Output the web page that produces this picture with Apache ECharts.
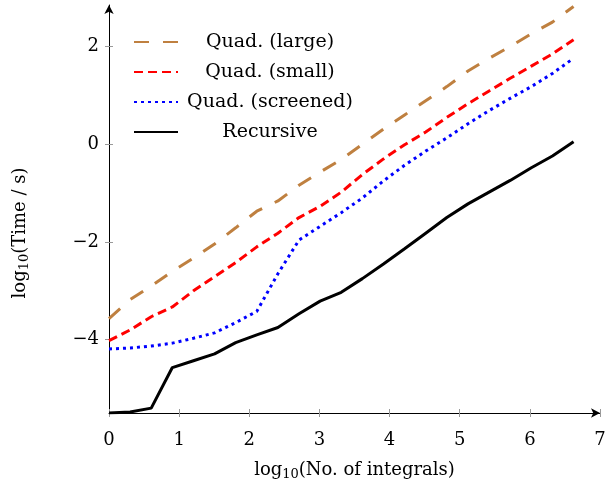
<!DOCTYPE html>
<html>
<head>
<meta charset="utf-8">
<script src="https://cdn.jsdelivr.net/npm/echarts@6/dist/echarts.min.js"></script>
<style>
  html, body { margin: 0; padding: 0; background: #fff; }
  #chart { width: 606px; height: 484px; }
</style>
</head>
<body>
<div id="chart"></div>
<script>
// log10 of the number of integrals (2^0 .. 2^22)
const logN = [0, 0.301, 0.602, 0.903, 1.204, 1.505, 1.806, 2.107, 2.408, 2.709, 3.010, 3.311,
              3.612, 3.913, 4.214, 4.515, 4.816, 5.118, 5.419, 5.720, 6.021, 6.322, 6.623];

// log10(time / s) per method
const quadLarge = [-3.57, -3.18, -2.9, -2.6, -2.33, -2.04, -1.71, -1.37, -1.16, -0.84, -0.57, -0.31,
                   0.0, 0.31, 0.6, 0.89, 1.18, 1.5, 1.76, 2.0, 2.26, 2.5, 2.82];
const quadSmall = [-4.02, -3.8, -3.53, -3.33, -3.0, -2.71, -2.42, -2.1, -1.82, -1.5, -1.27, -0.98,
                   -0.62, -0.3, -0.01, 0.25, 0.55, 0.83, 1.09, 1.35, 1.6, 1.85, 2.14];
const quadScreened = [-4.19, -4.17, -4.13, -4.07, -3.97, -3.86, -3.65, -3.42, -2.65, -1.96, -1.68, -1.4,
                      -1.1, -0.75, -0.43, -0.14, 0.13, 0.42, 0.69, 0.94, 1.18, 1.45, 1.76];
const recursive = [-5.5, -5.48, -5.4, -4.57, -4.43, -4.29, -4.06, -3.9, -3.75, -3.47, -3.21, -3.03,
                   -2.75, -2.45, -2.14, -1.82, -1.5, -1.22, -0.98, -0.74, -0.48, -0.24, 0.05];

const xTicks = [0, 1, 2, 3, 4, 5, 6, 7];
const yTicks = [-4, -2, 0, 2];

const serif = '"DejaVu Serif", "Liberation Serif", serif';

function pairs(ys) {
  return logN.map((x, i) => [x, ys[i]]);
}

const chart = echarts.init(document.getElementById('chart'));

const tickStyle = { lineStyle: { color: '#999', width: 1 }, length: 4 };

const option = {
  animation: false,
  backgroundColor: '#fff',
  grid: { left: 109, right: 6, top: 5, bottom: 71, outerBoundsMode: 'none' },
  legend: {
    left: 133,
    top: 31,
    padding: 0,
    orient: 'vertical',
    itemWidth: 44,
    itemHeight: 14,
    itemGap: 8,
    itemStyle: { opacity: 0 },
    data: ['Quad. (large)', 'Quad. (small)', 'Quad. (screened)', 'Recursive'],
    formatter: name => '{c|' + name + '}',
    textStyle: {
      rich: {
        c: { width: 174, height: 22, align: 'center', fontFamily: serif, fontSize: 19, lineHeight: 22, color: '#000' }
      }
    }
  },
  xAxis: [{
    type: 'value',
    min: 0,
    max: 7,
    interval: 1,
    name: 'log{s|10}(No. of integrals)',
    nameLocation: 'middle',
    nameGap: 47,
    nameTextStyle: {
      fontFamily: serif, fontSize: 18, color: '#000',
      rich: { s: { fontFamily: serif, fontSize: 13, verticalAlign: 'bottom', padding: [8, 0, 0, 0], color: '#000' } }
    },
    axisLine: { show: true, onZero: false, lineStyle: { color: '#000', width: 1 }, symbol: ['none', 'arrow'], symbolSize: [7, 9] },
    axisTick: Object.assign({ show: true, customValues: xTicks }, tickStyle),
    axisLabel: { customValues: xTicks, fontFamily: serif, fontSize: 18, color: '#000', margin: 18 },
    splitLine: { show: false }
  }, {
    type: 'value',
    min: 0,
    max: 7,
    interval: 1,
    position: 'bottom',
    axisLine: { show: false, onZero: false },
    axisTick: Object.assign({ show: true, inside: true, customValues: xTicks }, tickStyle),
    axisLabel: { show: false },
    splitLine: { show: false }
  }],
  yAxis: [{
    type: 'value',
    min: -5.5,
    max: 2.85,
    name: 'log{s|10}(Time / s)',
    nameLocation: 'middle',
    nameGap: 78,
    nameTextStyle: {
      fontFamily: serif, fontSize: 18, color: '#000',
      padding: [0, 48, 0, 0],
      rich: { s: { fontFamily: serif, fontSize: 13, verticalAlign: 'bottom', padding: [8, 0, 0, 0], color: '#000' } }
    },
    axisLine: { show: true, onZero: false, lineStyle: { color: '#000', width: 1 }, symbol: ['none', 'arrow'], symbolSize: [7, 9] },
    axisTick: Object.assign({ show: true, customValues: yTicks }, tickStyle),
    axisLabel: {
      customValues: yTicks,
      fontFamily: serif, fontSize: 18, color: '#000', margin: 10,
      formatter: v => String(v).replace('-', '\u2212')
    },
    splitLine: { show: false }
  }, {
    type: 'value',
    min: -5.5,
    max: 2.85,
    position: 'left',
    axisLine: { show: false, onZero: false },
    axisTick: Object.assign({ show: true, inside: true, customValues: yTicks }, tickStyle),
    axisLabel: { show: false },
    splitLine: { show: false }
  }],
  series: [
    {
      name: 'Quad. (large)',
      type: 'line',
      symbol: 'none',
      data: pairs(quadLarge),
      lineStyle: { color: '#bf8040', width: 3, type: [15, 14] },
      itemStyle: { color: '#bf8040' }
    },
    {
      name: 'Quad. (small)',
      type: 'line',
      symbol: 'none',
      data: pairs(quadSmall),
      lineStyle: { color: '#ff0000', width: 3, type: [9, 5] },
      itemStyle: { color: '#ff0000' }
    },
    {
      name: 'Quad. (screened)',
      type: 'line',
      symbol: 'none',
      data: pairs(quadScreened),
      lineStyle: { color: '#0000ff', width: 3, type: [3, 4] },
      itemStyle: { color: '#0000ff' }
    },
    {
      name: 'Recursive',
      type: 'line',
      symbol: 'none',
      data: pairs(recursive),
      lineStyle: { color: '#000', width: 3 },
      itemStyle: { color: '#000' }
    }
  ]
};

chart.setOption(option);
</script>
</body>
</html>
